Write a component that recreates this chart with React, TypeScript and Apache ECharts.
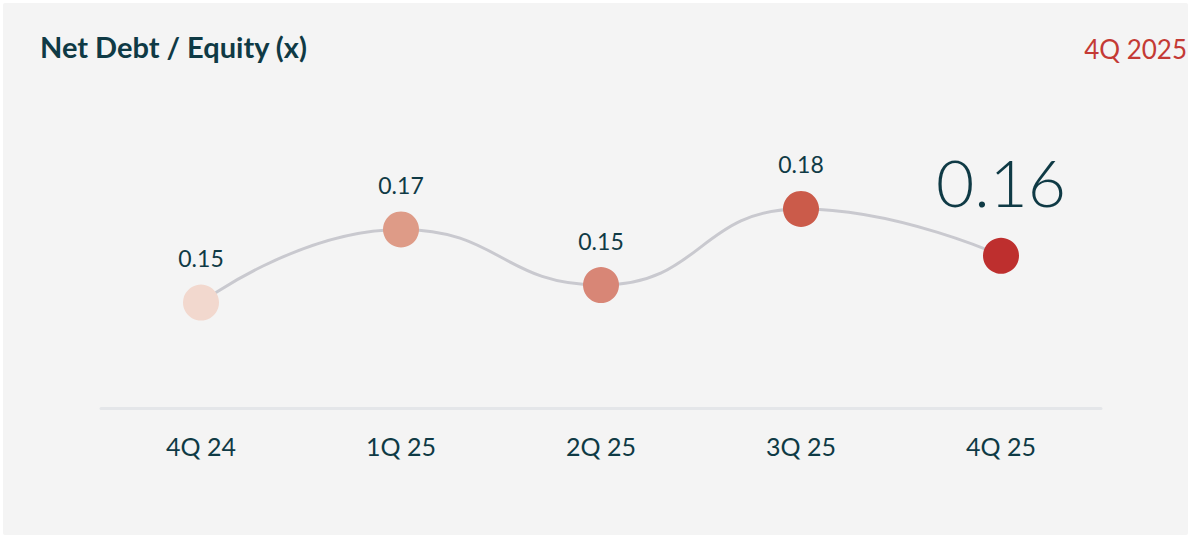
import React, { useEffect, useRef } from "react";
import * as echarts from "echarts";

const categories = ["4Q 24", "1Q 25", "2Q 25", "3Q 25", "4Q 25"];
const values = [0.146, 0.171, 0.152, 0.178, 0.162];
const dotColors = ["#f2d8ce", "#de9b87", "#d88676", "#cb5b4a", "#be2f2e"];
const title = "Net Debt / Equity (x)";
const period = "4Q 2025";

const FONT = "Lato, 'Open Sans', sans-serif";
const DARK = "#0f3a45";

export default function App() {
  const ref = useRef<HTMLDivElement>(null);
  useEffect(() => {
    if (!ref.current) return;
    const chart = echarts.init(ref.current, null, { renderer: "svg" });
    const last = values.length - 1;
    chart.setOption({
      animation: false,
      backgroundColor: "#ffffff",
      graphic: [
        {
          type: "rect",
          shape: { x: 3, y: 3, width: 1185, height: 532, r: 2 },
          style: { fill: "#f4f4f4" },
          z: -10,
          silent: true,
        },
        {
          type: "text",
          left: 40,
          top: 32,
          style: {
            text: title,
            font: `bold 29px ${FONT}`,
            fill: DARK,
          },
        },
        {
          type: "text",
          right: 4,
          top: 36,
          style: {
            text: period,
            font: `normal 26px ${FONT}`,
            fill: "#c43a35",
          },
        },
      ],
      grid: { left: 101, right: 90, top: 86, bottom: 129, containLabel: false },
      xAxis: {
        type: "category",
        data: categories,
        boundaryGap: true,
        axisLine: { show: true, lineStyle: { color: "#e4e6e9", width: 3 } },
        axisTick: { show: false },
        axisLabel: {
          margin: 25,
          fontFamily: FONT,
          fontSize: 25,
          color: DARK,
        },
      },
      yAxis: {
        type: "value",
        min: 0.11,
        max: 0.22,
        show: false,
        splitLine: { show: false },
      },
      series: [
        {
          type: "line",
          smooth: 0.5,
          data: values.map((v, i) => ({
            value: v,
            itemStyle: { color: dotColors[i] },
            label:
              i === last
                ? {
                    fontSize: 66,
                    fontWeight: 300,
                    distance: 23,
                  }
                : undefined,
          })),
          symbol: "circle",
          symbolSize: 36,
          lineStyle: { color: "#c9c9cf", width: 3 },
          label: {
            show: true,
            position: "top",
            distance: 15,
            fontFamily: FONT,
            fontSize: 23,
            color: DARK,
            formatter: (p: any) => p.value.toFixed(2),
          },
        },
      ],
    });
    return () => chart.dispose();
  }, []);
  return (
    <div
      ref={ref}
      style={{ position: "fixed", left: 0, top: 0, width: 1191, height: 537 }}
    />
  );
}
